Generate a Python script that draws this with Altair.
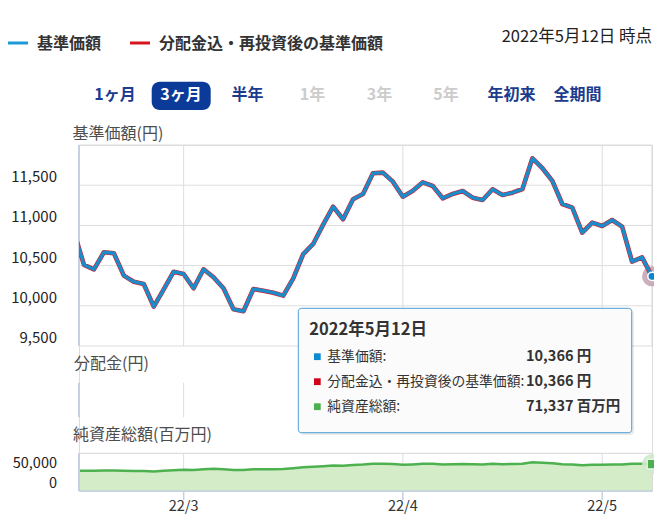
import altair as alt
import pandas as pd

FONT = "Noto Sans CJK JP"

# ---------------- data ----------------
dates = [
    "2022-02-10", "2022-02-14", "2022-02-15", "2022-02-16", "2022-02-17", "2022-02-18",
    "2022-02-21", "2022-02-22", "2022-02-24", "2022-02-25", "2022-02-28",
    "2022-03-01", "2022-03-02", "2022-03-03", "2022-03-04", "2022-03-07", "2022-03-08",
    "2022-03-09", "2022-03-10", "2022-03-11", "2022-03-14", "2022-03-15", "2022-03-16",
    "2022-03-17", "2022-03-18", "2022-03-22", "2022-03-23", "2022-03-24", "2022-03-25",
    "2022-03-28", "2022-03-29", "2022-03-30", "2022-03-31",
    "2022-04-01", "2022-04-04", "2022-04-05", "2022-04-06", "2022-04-07", "2022-04-08",
    "2022-04-11", "2022-04-12", "2022-04-13", "2022-04-14", "2022-04-15", "2022-04-18",
    "2022-04-19", "2022-04-20", "2022-04-21", "2022-04-22", "2022-04-25", "2022-04-26",
    "2022-04-27", "2022-04-28",
    "2022-05-02", "2022-05-06", "2022-05-09", "2022-05-10", "2022-05-11", "2022-05-12",
]
nav = [
    10918, 10508, 10454, 10666, 10653, 10375, 10300, 10271, 9989, 10205,
    10424, 10396, 10218, 10454, 10355, 10218, 9957, 9932, 10209, 10188,
    10163, 10126, 10342, 10644, 10769, 11009, 11233, 11076, 11325, 11391,
    11648, 11656, 11544, 11357, 11432, 11536, 11490, 11337, 11391, 11428,
    11345, 11316, 11449, 11378, 11407, 11453, 11835, 11711, 11553, 11266,
    11220, 10909, 11034, 10993, 11067, 10984, 10549, 10603, 10366,
]
nav_reinvested = [
    10918, 10508, 10454, 10666, 10653, 10375, 10300, 10271, 9989, 10205,
    10424, 10396, 10218, 10454, 10355, 10218, 9957, 9932, 10209, 10188,
    10163, 10126, 10342, 10644, 10769, 11009, 11233, 11076, 11325, 11391,
    11648, 11656, 11544, 11357, 11432, 11536, 11490, 11337, 11391, 11428,
    11345, 11316, 11449, 11378, 11407, 11453, 11835, 11711, 11553, 11266,
    11220, 10909, 11034, 10993, 11067, 10984, 10549, 10603, 10366,
]
net_assets = [
    54000, 53800, 53500, 54200, 54300, 53600, 53200, 52800, 51500, 53500,
    55000, 56500, 56000, 57500, 58800, 57500, 55700, 55500, 57500, 57800,
    58000, 58500, 60500, 62800, 64000, 65500, 67500, 66800, 69000, 70000,
    72000, 72500, 71500, 69500, 70500, 72000, 72000, 70500, 71000, 71500,
    70800, 70500, 72000, 71200, 71500, 72000, 76000, 75000, 73500, 71000,
    70500, 68500, 69800, 69500, 70500, 70000, 72500, 72000, 71337,
]
month_tick_dates = ["2022-03-01", "2022-04-01", "2022-05-02"]
month_tick_labels = ["22/3", "22/4", "22/5"]
nav_ticks = [9500, 10000, 10500, 11000, 11500]
nav_range = [9500, 12000]
asset_ticks = [0, 50000]
asset_range = [0, 100000]
legend_labels = ["基準価額", "分配金込・再投資後の基準価額"]
period_buttons = ["1ヶ月", "3ヶ月", "半年", "1年", "3年", "5年", "年初来", "全期間"]
period_active = ["1ヶ月", "3ヶ月", "半年", "年初来", "全期間"]
selected_period = "3ヶ月"
as_of_text = "2022年5月12日 時点"
panel_titles = ["基準価額(円)", "分配金(円)", "純資産総額(百万円)"]
tooltip_labels = ["基準価額:", "分配金込・再投資後の基準価額:", "純資産総額:"]

# ---------------- frames ----------------
df = pd.DataFrame({
    "idx": list(range(len(dates))),
    "date": dates,
    "nav": nav,
    "nav_reinv": nav_reinvested,
    "assets": net_assets,
})
last = len(dates) - 1
x_lo = 0.5
tick_idx = [dates.index(d) for d in month_tick_dates]
ticks_df = pd.DataFrame({"idx": tick_idx, "label": month_tick_labels})
nav_grid_df = pd.DataFrame({"v": nav_ticks + [nav_range[1]]})
nav_lab_df = pd.DataFrame({"v": nav_ticks})
asset_lab_df = pd.DataFrame({"v": asset_ticks})
one = alt.Data(values=[{"k": 0}])

# ---------------- styles ----------------
BLUE = "#1b8bc9"
RED = "#d3212d"
GREEN = "#4db14f"
AREA = "#d4edc8"
GRID = "#dddddd"
BORDER = "#d6d6d6"
AXB = "#c3d1e2"
NAVY = "#1b3c8e"
SEL = "#0b3a99"

x_scale = alt.Scale(domain=[x_lo, last], nice=False, zero=False)
ys_main = alt.Scale(domain=nav_range, range=[201, 0], nice=False, zero=False)
ys_mid = alt.Scale(domain=[0, 1], range=[272.3, 237.7], nice=False, zero=False)
ys_bot = alt.Scale(domain=asset_range, range=[346, 308.3], nice=False, zero=False)


def xenc():
    return alt.X("idx:Q", scale=x_scale, axis=None)


def x_lo_d():
    return alt.XDatum(x_lo, scale=x_scale, axis=None)


def x_hi_d():
    return alt.XDatum(last, scale=x_scale, axis=None)


base = alt.Chart(df)
last_pt = base.transform_filter(alt.datum.idx == last)

# ---------------- main panel ----------------
main_hgrid = alt.Chart(nav_grid_df).mark_rule(color=GRID, strokeWidth=1).encode(
    x=x_lo_d(), x2=alt.datum(last), y=alt.Y("v:Q", scale=ys_main, axis=None))
main_vgrid = alt.Chart(ticks_df).mark_rule(color=GRID, strokeWidth=1).encode(
    x=xenc(), y=alt.YDatum(nav_range[0], scale=ys_main, axis=None), y2=alt.datum(nav_range[1]))
main_right = alt.Chart(one).mark_rule(color=BORDER, strokeWidth=1).encode(
    x=x_hi_d(), y=alt.YDatum(nav_range[0], scale=ys_main, axis=None), y2=alt.datum(nav_range[1]))
main_left = alt.Chart(one).mark_rule(color=AXB, strokeWidth=2).encode(
    x=x_lo_d(), y=alt.YDatum(nav_range[0], scale=ys_main, axis=None), y2=alt.datum(nav_range[1]))
main_labels = alt.Chart(nav_lab_df).mark_text(
    align="right", baseline="middle", fontSize=15, color="#222222", dy=-8, font=FONT).encode(
    x=alt.value(-22), y=alt.Y("v:Q", scale=ys_main, axis=None), text=alt.Text("v:Q", format=","))
main_halo = last_pt.mark_circle(size=400, color="#c3a0b2", opacity=0.85).encode(
    x=xenc(), y=alt.Y("nav:Q", scale=ys_main, axis=None))
red_line = base.mark_line(color=RED, strokeWidth=4.6, clip=True, strokeJoin="round").encode(
    x=xenc(), y=alt.Y("nav_reinv:Q", scale=ys_main, axis=None))
blue_line = base.mark_line(color=BLUE, strokeWidth=3.4, clip=True, strokeJoin="round").encode(
    x=xenc(), y=alt.Y("nav:Q", scale=ys_main, axis=None))
main_marker = last_pt.mark_circle(size=70, color="#0a85c9", opacity=1, stroke="white",
                                  strokeWidth=1.5).encode(
    x=xenc(), y=alt.Y("nav:Q", scale=ys_main, axis=None))
main_panel = alt.layer(main_hgrid, main_vgrid, main_right, main_left, main_labels,
                       main_halo, red_line, blue_line, main_marker)

# ---------------- distribution panel ----------------
mid_vgrid = alt.Chart(ticks_df).mark_rule(color=GRID, strokeWidth=1).encode(
    x=xenc(), y=alt.YDatum(0, scale=ys_mid, axis=None), y2=alt.datum(1))
mid_left = alt.Chart(one).mark_rule(color=AXB, strokeWidth=2).encode(
    x=x_lo_d(), y=alt.YDatum(0, scale=ys_mid, axis=None), y2=alt.datum(1))
mid_panel = alt.layer(mid_vgrid, mid_left)

# ---------------- net assets panel ----------------
bot_vgrid = alt.Chart(ticks_df).mark_rule(color=GRID, strokeWidth=1).encode(
    x=xenc(), y=alt.YDatum(asset_range[0], scale=ys_bot, axis=None), y2=alt.datum(asset_range[1]))
bot_top = alt.Chart(one).mark_rule(color=BORDER, strokeWidth=1).encode(
    x=x_lo_d(), x2=alt.datum(last), y=alt.YDatum(asset_range[1], scale=ys_bot, axis=None))
bot_right = alt.Chart(one).mark_rule(color=BORDER, strokeWidth=1).encode(
    x=x_hi_d(), y=alt.YDatum(asset_range[0], scale=ys_bot, axis=None), y2=alt.datum(asset_range[1]))
bot_area = base.mark_area(color=AREA, opacity=1, clip=True).encode(
    x=xenc(), y=alt.Y("assets:Q", scale=ys_bot, axis=None))
bot_line = base.mark_line(color=GREEN, strokeWidth=2.5, clip=True).encode(
    x=xenc(), y=alt.Y("assets:Q", scale=ys_bot, axis=None))
bot_left = alt.Chart(one).mark_rule(color=AXB, strokeWidth=2).encode(
    x=x_lo_d(), y=alt.YDatum(asset_range[0], scale=ys_bot, axis=None), y2=alt.datum(asset_range[1]))
bot_xdomain = alt.Chart(one).mark_rule(color=AXB, strokeWidth=1.5).encode(
    x=x_lo_d(), x2=alt.datum(last), y=alt.YDatum(asset_range[0], scale=ys_bot, axis=None))
bot_label_hi = alt.Chart(asset_lab_df).transform_filter(alt.datum.v > 0).mark_text(
    align="right", baseline="middle", fontSize=14.5, color="#222222", dy=-8.5, font=FONT).encode(
    x=alt.value(-22), y=alt.Y("v:Q", scale=ys_bot, axis=None), text=alt.Text("v:Q", format=","))
bot_label_lo = alt.Chart(asset_lab_df).transform_filter(alt.datum.v <= 0).mark_text(
    align="right", baseline="middle", fontSize=14.5, color="#222222", dy=-7, font=FONT).encode(
    x=alt.value(-22), y=alt.Y("v:Q", scale=ys_bot, axis=None), text=alt.Text("v:Q", format=","))
bot_halo = last_pt.mark_circle(size=400, color="#cfe9ca", opacity=0.9).encode(
    x=xenc(), y=alt.Y("assets:Q", scale=ys_bot, axis=None))
bot_marker = last_pt.mark_square(size=90, color="#4caf50", opacity=1, stroke="white",
                                 strokeWidth=1).encode(
    x=xenc(), y=alt.Y("assets:Q", scale=ys_bot, axis=None))
bot_panel = alt.layer(bot_vgrid, bot_top, bot_right, bot_area, bot_line, bot_left, bot_xdomain,
                      bot_label_hi, bot_label_lo, bot_halo, bot_marker)

# ---------------- x axis (ticks + labels below the net-assets panel) ----------------
x_ticks = alt.Chart(ticks_df).mark_rule(color=AXB, strokeWidth=1.5).encode(
    x=xenc(), y=alt.value(346), y2=alt.value(355))
x_labels = alt.Chart(ticks_df).mark_text(
    baseline="top", align="center", fontSize=14.5, color="#333333", font=FONT).encode(
    x=xenc(), y=alt.value(355), text="label:N")


# ---------------- annotations ----------------
def txt(s, x, y, size=16, color="#333333", weight="normal", align="left"):
    return alt.Chart(one).mark_text(fontSize=size, color=color, fontWeight=weight, align=align,
                                    baseline="middle", font=FONT).encode(
        x=alt.value(x), y=alt.value(y), text=alt.value(s))


def hrule(x1, x2, y, color, w):
    return alt.Chart(one).mark_rule(color=color, strokeWidth=w).encode(
        x=alt.value(x1), x2=alt.value(x2), y=alt.value(y))


def box(x1, x2, y1, y2, **kw):
    return alt.Chart(one).mark_rect(**kw).encode(
        x=alt.value(x1), x2=alt.value(x2), y=alt.value(y1), y2=alt.value(y2))


ann = []
# legend
ann.append(hrule(-71, -51, -102, "#1a9ad6", 3))
ann.append(txt(legend_labels[0], -42, -101.5, 16, "#333333", "bold"))
ann.append(hrule(51, 71, -102, "#d7141e", 3))
ann.append(txt(legend_labels[1], 80, -101.5, 16, "#333333", "bold"))
ann.append(txt(as_of_text, 573, -108, 16.5, "#222222", "normal", "right"))
# period buttons
btn_x = [36, 102, 168.5, 233.5, 300.5, 367, 432.5, 498.5]
ann.append(box(72.7, 131.7, -63.3, -35, color=SEL, cornerRadius=8))
for lab, bx in zip(period_buttons, btn_x):
    if lab == selected_period:
        col = "white"
    elif lab in period_active:
        col = NAVY
    else:
        col = "#cccccc"
    ann.append(txt(lab, bx, -50.5, 16, col, "bold", "center"))
# panel titles
ann.append(txt(panel_titles[0], -6.5, -11, 16, "#4d4d4d"))
ann.append(txt(panel_titles[1], -5, 219, 16, "#4d4d4d"))
ann.append(txt(panel_titles[2], -6, 290, 16, "#4d4d4d"))

# tooltip
y_, m_, d_ = dates[last].split("-")
tip_title = f"{int(y_)}年{int(m_)}月{int(d_)}日"
tip_values = [f"{nav[last]:,} 円", f"{nav_reinvested[last]:,} 円", f"{net_assets[last]:,} 百万円"]
tip_colors = ["#0a8ad0", "#d0021b", "#4caf50"]
tip_rows_y = [211.7, 236.7, 261.7]
ann.append(box(221.3, 555, 165.3, 290, color="#000000", opacity=0.08, cornerRadius=3))
ann.append(box(219.3, 552.7, 163.3, 287.7, fill="#fbfbfb", stroke="#4a9fd5", strokeWidth=1,
               cornerRadius=3))
ann.append(txt(tip_title, 230.3, 185, 16.5, "#333333", "bold"))
for lab, val, col, ry in zip(tooltip_labels, tip_values, tip_colors, tip_rows_y):
    ann.append(box(235, 241.7, ry - 3.4, ry + 3.4, color=col))
    ann.append(txt(lab, 248.3, ry, 13.8, "#333333"))
    ann.append(txt(val, 447, ry, 14.5, "#333333", "bold"))

chart = alt.layer(main_panel, mid_panel, bot_panel, x_ticks, x_labels, *ann).resolve_scale(
    y="independent"
).properties(
    width=573, height=346,
    autosize=alt.AutoSizeParams(type="none"),
    padding={"left": 71, "top": 137, "right": 2, "bottom": 25},
).configure_view(stroke=None).configure(font=FONT)

chart.save("out.html", embed_options={"renderer": "svg", "actions": False})
